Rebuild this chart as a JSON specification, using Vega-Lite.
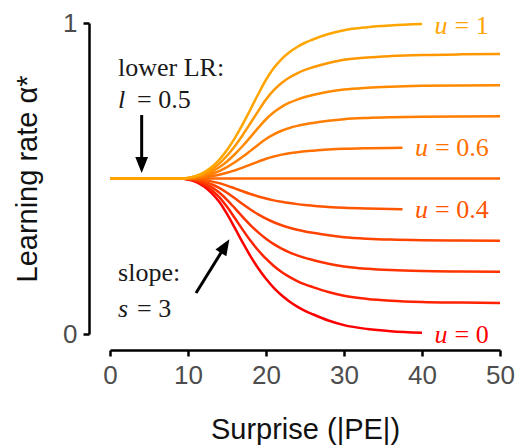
{
  "$schema": "https://vega.github.io/schema/vega-lite/v6.json",
  "width": 390,
  "height": 311,
  "autosize": {"type": "none"},
  "padding": {"left": 110, "top": 23, "right": 18, "bottom": 112},
  "background": "white",
  "config": {"view": {"stroke": null}, "axis": {"grid": false}},
  "datasets": {
    "curves": [
      {"u":"0","x":0,"y":0.5},{"u":"0","x":9,"y":0.5},{"u":"0","x":10,"y":0.497},{"u":"0","x":11,"y":0.489},{"u":"0","x":12,"y":0.475},{"u":"0","x":13,"y":0.454},{"u":"0","x":14,"y":0.425},{"u":"0","x":15,"y":0.386},{"u":"0","x":16,"y":0.341},{"u":"0","x":17,"y":0.2945},{"u":"0","x":18,"y":0.2505},{"u":"0","x":19,"y":0.2115},{"u":"0","x":20,"y":0.1775},{"u":"0","x":21,"y":0.1485},{"u":"0","x":22,"y":0.1245},{"u":"0","x":23,"y":0.1045},{"u":"0","x":24,"y":0.088},{"u":"0","x":25,"y":0.0745},{"u":"0","x":26,"y":0.0635},{"u":"0","x":28,"y":0.0435},{"u":"0","x":30,"y":0.0285},{"u":"0","x":33,"y":0.016},{"u":"0","x":36,"y":0.009},{"u":"0","x":40,"y":0.004},
      {"u":"0.1","x":0,"y":0.5},{"u":"0.1","x":9,"y":0.5},{"u":"0.1","x":10,"y":0.4976},{"u":"0.1","x":11,"y":0.4912},{"u":"0.1","x":12,"y":0.48},{"u":"0.1","x":13,"y":0.4632},{"u":"0.1","x":14,"y":0.44},{"u":"0.1","x":15,"y":0.4088},{"u":"0.1","x":16,"y":0.3728},{"u":"0.1","x":17,"y":0.3356},{"u":"0.1","x":18,"y":0.3004},{"u":"0.1","x":19,"y":0.2692},{"u":"0.1","x":20,"y":0.242},{"u":"0.1","x":21,"y":0.2188},{"u":"0.1","x":22,"y":0.1996},{"u":"0.1","x":23,"y":0.1836},{"u":"0.1","x":24,"y":0.1704},{"u":"0.1","x":25,"y":0.1596},{"u":"0.1","x":26,"y":0.1508},{"u":"0.1","x":28,"y":0.1348},{"u":"0.1","x":30,"y":0.1228},{"u":"0.1","x":33,"y":0.1128},{"u":"0.1","x":36,"y":0.1072},{"u":"0.1","x":40,"y":0.1032},{"u":"0.1","x":45,"y":0.1012},{"u":"0.1","x":50,"y":0.1},
      {"u":"0.2","x":0,"y":0.5},{"u":"0.2","x":9,"y":0.5},{"u":"0.2","x":10,"y":0.4982},{"u":"0.2","x":11,"y":0.4934},{"u":"0.2","x":12,"y":0.485},{"u":"0.2","x":13,"y":0.4724},{"u":"0.2","x":14,"y":0.455},{"u":"0.2","x":15,"y":0.4316},{"u":"0.2","x":16,"y":0.4046},{"u":"0.2","x":17,"y":0.3767},{"u":"0.2","x":18,"y":0.3503},{"u":"0.2","x":19,"y":0.3269},{"u":"0.2","x":20,"y":0.3065},{"u":"0.2","x":21,"y":0.2891},{"u":"0.2","x":22,"y":0.2747},{"u":"0.2","x":23,"y":0.2627},{"u":"0.2","x":24,"y":0.2528},{"u":"0.2","x":25,"y":0.2447},{"u":"0.2","x":26,"y":0.2381},{"u":"0.2","x":28,"y":0.2261},{"u":"0.2","x":30,"y":0.2171},{"u":"0.2","x":33,"y":0.2096},{"u":"0.2","x":36,"y":0.2054},{"u":"0.2","x":40,"y":0.2024},{"u":"0.2","x":45,"y":0.2009},{"u":"0.2","x":50,"y":0.2},
      {"u":"0.3","x":0,"y":0.5},{"u":"0.3","x":9,"y":0.5},{"u":"0.3","x":10,"y":0.4988},{"u":"0.3","x":11,"y":0.4956},{"u":"0.3","x":12,"y":0.49},{"u":"0.3","x":13,"y":0.4816},{"u":"0.3","x":14,"y":0.47},{"u":"0.3","x":15,"y":0.4544},{"u":"0.3","x":16,"y":0.4364},{"u":"0.3","x":17,"y":0.4178},{"u":"0.3","x":18,"y":0.4002},{"u":"0.3","x":19,"y":0.3846},{"u":"0.3","x":20,"y":0.371},{"u":"0.3","x":21,"y":0.3594},{"u":"0.3","x":22,"y":0.3498},{"u":"0.3","x":23,"y":0.3418},{"u":"0.3","x":24,"y":0.3352},{"u":"0.3","x":25,"y":0.3298},{"u":"0.3","x":26,"y":0.3254},{"u":"0.3","x":28,"y":0.3174},{"u":"0.3","x":30,"y":0.3114},{"u":"0.3","x":33,"y":0.3064},{"u":"0.3","x":36,"y":0.3036},{"u":"0.3","x":40,"y":0.3016},{"u":"0.3","x":45,"y":0.3006},{"u":"0.3","x":50,"y":0.3},
      {"u":"0.4","x":0,"y":0.5},{"u":"0.4","x":9,"y":0.5},{"u":"0.4","x":10,"y":0.4994},{"u":"0.4","x":11,"y":0.4978},{"u":"0.4","x":12,"y":0.495},{"u":"0.4","x":13,"y":0.4908},{"u":"0.4","x":14,"y":0.485},{"u":"0.4","x":15,"y":0.4772},{"u":"0.4","x":16,"y":0.4682},{"u":"0.4","x":17,"y":0.4589},{"u":"0.4","x":18,"y":0.4501},{"u":"0.4","x":19,"y":0.4423},{"u":"0.4","x":20,"y":0.4355},{"u":"0.4","x":21,"y":0.4297},{"u":"0.4","x":22,"y":0.4249},{"u":"0.4","x":23,"y":0.4209},{"u":"0.4","x":24,"y":0.4176},{"u":"0.4","x":25,"y":0.4149},{"u":"0.4","x":26,"y":0.4127},{"u":"0.4","x":28,"y":0.4087},{"u":"0.4","x":30,"y":0.4057},{"u":"0.4","x":33,"y":0.4032},{"u":"0.4","x":36,"y":0.4018},{"u":"0.4","x":37.5,"y":0.4013},
      {"u":"0.5","x":0,"y":0.5},{"u":"0.5","x":50,"y":0.5},
      {"u":"0.6","x":0,"y":0.5},{"u":"0.6","x":9,"y":0.5},{"u":"0.6","x":10,"y":0.5004},{"u":"0.6","x":11,"y":0.5016},{"u":"0.6","x":12,"y":0.5038},{"u":"0.6","x":13,"y":0.5072},{"u":"0.6","x":14,"y":0.512},{"u":"0.6","x":15,"y":0.5183},{"u":"0.6","x":16,"y":0.526},{"u":"0.6","x":17,"y":0.5348},{"u":"0.6","x":18,"y":0.5444},{"u":"0.6","x":19,"y":0.5542},{"u":"0.6","x":20,"y":0.5635},{"u":"0.6","x":21,"y":0.571},{"u":"0.6","x":22,"y":0.5768},{"u":"0.6","x":23,"y":0.5812},{"u":"0.6","x":24,"y":0.5846},{"u":"0.6","x":25,"y":0.5873},{"u":"0.6","x":26,"y":0.5894},{"u":"0.6","x":28,"y":0.5929},{"u":"0.6","x":30,"y":0.5954},{"u":"0.6","x":33,"y":0.5973},{"u":"0.6","x":36,"y":0.5984},{"u":"0.6","x":37.5,"y":0.5988},
      {"u":"0.7","x":0,"y":0.5},{"u":"0.7","x":9,"y":0.5},{"u":"0.7","x":10,"y":0.5008},{"u":"0.7","x":11,"y":0.5032},{"u":"0.7","x":12,"y":0.5076},{"u":"0.7","x":13,"y":0.5144},{"u":"0.7","x":14,"y":0.524},{"u":"0.7","x":15,"y":0.5366},{"u":"0.7","x":16,"y":0.552},{"u":"0.7","x":17,"y":0.5696},{"u":"0.7","x":18,"y":0.5888},{"u":"0.7","x":19,"y":0.6084},{"u":"0.7","x":20,"y":0.627},{"u":"0.7","x":21,"y":0.642},{"u":"0.7","x":22,"y":0.6536},{"u":"0.7","x":23,"y":0.6624},{"u":"0.7","x":24,"y":0.6692},{"u":"0.7","x":25,"y":0.6746},{"u":"0.7","x":26,"y":0.6788},{"u":"0.7","x":28,"y":0.6858},{"u":"0.7","x":30,"y":0.6908},{"u":"0.7","x":33,"y":0.6946},{"u":"0.7","x":36,"y":0.6968},{"u":"0.7","x":40,"y":0.6986},{"u":"0.7","x":45,"y":0.6996},{"u":"0.7","x":50,"y":0.7},
      {"u":"0.8","x":0,"y":0.5},{"u":"0.8","x":9,"y":0.5},{"u":"0.8","x":10,"y":0.5012},{"u":"0.8","x":11,"y":0.5048},{"u":"0.8","x":12,"y":0.5114},{"u":"0.8","x":13,"y":0.5216},{"u":"0.8","x":14,"y":0.536},{"u":"0.8","x":15,"y":0.5549},{"u":"0.8","x":16,"y":0.578},{"u":"0.8","x":17,"y":0.6044},{"u":"0.8","x":18,"y":0.6332},{"u":"0.8","x":19,"y":0.6626},{"u":"0.8","x":20,"y":0.6905},{"u":"0.8","x":21,"y":0.713},{"u":"0.8","x":22,"y":0.7304},{"u":"0.8","x":23,"y":0.7436},{"u":"0.8","x":24,"y":0.7538},{"u":"0.8","x":25,"y":0.7619},{"u":"0.8","x":26,"y":0.7682},{"u":"0.8","x":28,"y":0.7787},{"u":"0.8","x":30,"y":0.7862},{"u":"0.8","x":33,"y":0.7919},{"u":"0.8","x":36,"y":0.7952},{"u":"0.8","x":40,"y":0.7979},{"u":"0.8","x":45,"y":0.7994},{"u":"0.8","x":50,"y":0.8},
      {"u":"0.9","x":0,"y":0.5},{"u":"0.9","x":9,"y":0.5},{"u":"0.9","x":10,"y":0.5016},{"u":"0.9","x":11,"y":0.5064},{"u":"0.9","x":12,"y":0.5152},{"u":"0.9","x":13,"y":0.5288},{"u":"0.9","x":14,"y":0.548},{"u":"0.9","x":15,"y":0.5732},{"u":"0.9","x":16,"y":0.604},{"u":"0.9","x":17,"y":0.6392},{"u":"0.9","x":18,"y":0.6776},{"u":"0.9","x":19,"y":0.7168},{"u":"0.9","x":20,"y":0.754},{"u":"0.9","x":21,"y":0.784},{"u":"0.9","x":22,"y":0.8072},{"u":"0.9","x":23,"y":0.8248},{"u":"0.9","x":24,"y":0.8384},{"u":"0.9","x":25,"y":0.8492},{"u":"0.9","x":26,"y":0.8576},{"u":"0.9","x":28,"y":0.8716},{"u":"0.9","x":30,"y":0.8816},{"u":"0.9","x":33,"y":0.8892},{"u":"0.9","x":36,"y":0.8936},{"u":"0.9","x":40,"y":0.8972},{"u":"0.9","x":45,"y":0.8992},{"u":"0.9","x":50,"y":0.9},
      {"u":"1","x":0,"y":0.5},{"u":"1","x":9,"y":0.5},{"u":"1","x":10,"y":0.502},{"u":"1","x":11,"y":0.508},{"u":"1","x":12,"y":0.519},{"u":"1","x":13,"y":0.536},{"u":"1","x":14,"y":0.56},{"u":"1","x":15,"y":0.5915},{"u":"1","x":16,"y":0.63},{"u":"1","x":17,"y":0.674},{"u":"1","x":18,"y":0.722},{"u":"1","x":19,"y":0.771},{"u":"1","x":20,"y":0.8175},{"u":"1","x":21,"y":0.855},{"u":"1","x":22,"y":0.884},{"u":"1","x":23,"y":0.906},{"u":"1","x":24,"y":0.923},{"u":"1","x":25,"y":0.9365},{"u":"1","x":26,"y":0.947},{"u":"1","x":28,"y":0.9645},{"u":"1","x":30,"y":0.977},{"u":"1","x":33,"y":0.9865},{"u":"1","x":36,"y":0.992},{"u":"1","x":40,"y":0.9965}
    ],
    "ulabels": [
      {"u":"1","x":41.6,"y":0.966,"t":"= 1"},
      {"u":"0.6","x":39.1,"y":0.572,"t":"= 0.6"},
      {"u":"0.4","x":39.1,"y":0.372,"t":"= 0.4"},
      {"u":"0","x":41.6,"y":-0.03,"t":"= 0"}
    ],
    "notes": [
      {"x":1.03,"y":0.8296,"t":"lower LR:"},
      {"x":1.03,"y":0.1704,"t":"slope:"}
    ],
    "vars": [
      {"x":1.03,"y":0.7267,"v":"l","t":"= 0.5"},
      {"x":1.03,"y":0.0556,"v":"s","t":"= 3"}
    ],
    "arrows": [
      {"x":4.06,"y":0.704,"x2":4.06,"y2":0.54},
      {"x":11.03,"y":0.132,"x2":14.76,"y2":0.2826}
    ],
    "head1": [{"x":4.06,"y":0.5434}],
    "head2": [{"x":14.76,"y":0.2826}]
  },
  "encoding": {
    "x": {
      "field": "x", "type": "quantitative",
      "scale": {"domain": [0, 50], "nice": false, "zero": false},
      "axis": {
        "values": [0, 10, 20, 30, 40, 50], "format": "d",
        "offset": 16, "tickSize": 6, "tickWidth": 2.5, "tickColor": "#000",
        "domainWidth": 2.5, "domainColor": "#000",
        "labelFont": "Liberation Sans", "labelFontSize": 26, "labelColor": "#4d4d4d",
        "labelPadding": 6, "labelFlush": false, "labelOverlap": false,
        "title": "Surprise (|PE|)", "titleFont": "Liberation Sans", "titleFontSize": 29,
        "titleFontWeight": "normal", "titleColor": "#111", "titlePadding": 27
      }
    },
    "y": {
      "field": "y", "type": "quantitative",
      "scale": {"domain": [0, 1], "nice": false},
      "axis": {
        "values": [0, 1], "format": "d",
        "offset": 21, "tickSize": 6, "tickWidth": 2.5, "tickColor": "#000",
        "domainWidth": 2.5, "domainColor": "#000",
        "labelFont": "Liberation Sans", "labelFontSize": 26, "labelColor": "#4d4d4d",
        "labelPadding": 6, "labelOverlap": false,
        "title": "Learning rate α*", "titleFont": "Liberation Sans", "titleFontSize": 29,
        "titleFontWeight": "normal", "titleColor": "#111", "titlePadding": 20
      }
    }
  },
  "layer": [
    {
      "data": {"name": "curves"},
      "mark": {"type": "line", "interpolate": "monotone", "strokeWidth": 2.5},
      "encoding": {
        "color": {
          "field": "u", "type": "nominal", "legend": null,
          "scale": {
            "domain": ["0","0.1","0.2","0.3","0.4","0.5","0.6","0.7","0.8","0.9","1"],
            "range": ["#ff0000","#ff2200","#ff3300","#ff4400","#ff5500","#ff6600","#ff7000","#ff7d00","#ff8a00","#ff9800","#ffa500"]
          }
        }
      }
    },
    {
      "data": {"name": "ulabels"},
      "mark": {"type": "text", "text": "u", "font": "Liberation Serif", "fontStyle": "italic", "fontSize": 26, "align": "left", "baseline": "alphabetic"},
      "encoding": {
        "color": {"field": "u", "type": "nominal", "legend": null}
      }
    },
    {
      "data": {"name": "ulabels"},
      "mark": {"type": "text", "font": "Liberation Serif", "fontSize": 26, "align": "left", "baseline": "alphabetic", "dx": 20},
      "encoding": {
        "text": {"field": "t"},
        "color": {"field": "u", "type": "nominal", "legend": null}
      }
    },
    {
      "data": {"name": "notes"},
      "mark": {"type": "text", "font": "Liberation Serif", "fontSize": 26, "align": "left", "baseline": "alphabetic", "color": "#1a1a1a"},
      "encoding": {"text": {"field": "t"}}
    },
    {
      "data": {"name": "vars"},
      "mark": {"type": "text", "font": "Liberation Serif", "fontStyle": "italic", "fontSize": 26, "align": "left", "baseline": "alphabetic", "color": "#1a1a1a"},
      "encoding": {"text": {"field": "v"}}
    },
    {
      "data": {"name": "vars"},
      "mark": {"type": "text", "font": "Liberation Serif", "fontSize": 26, "align": "left", "baseline": "alphabetic", "color": "#1a1a1a", "dx": 19},
      "encoding": {"text": {"field": "t"}}
    },
    {
      "data": {"name": "arrows"},
      "mark": {"type": "rule", "strokeWidth": 3, "color": "#000"},
      "encoding": {"x2": {"field": "x2"}, "y2": {"field": "y2"}}
    },
    {
      "data": {"name": "head1"},
      "mark": {"type": "point", "shape": "M0,1L-0.8,-1L0.8,-1Z", "filled": true, "size": 256, "color": "#000", "opacity": 1}
    },
    {
      "data": {"name": "head2"},
      "mark": {"type": "point", "shape": "M0,1L-0.8,-1L0.8,-1Z", "filled": true, "size": 256, "color": "#000", "opacity": 1, "angle": 212}
    }
  ]
}
